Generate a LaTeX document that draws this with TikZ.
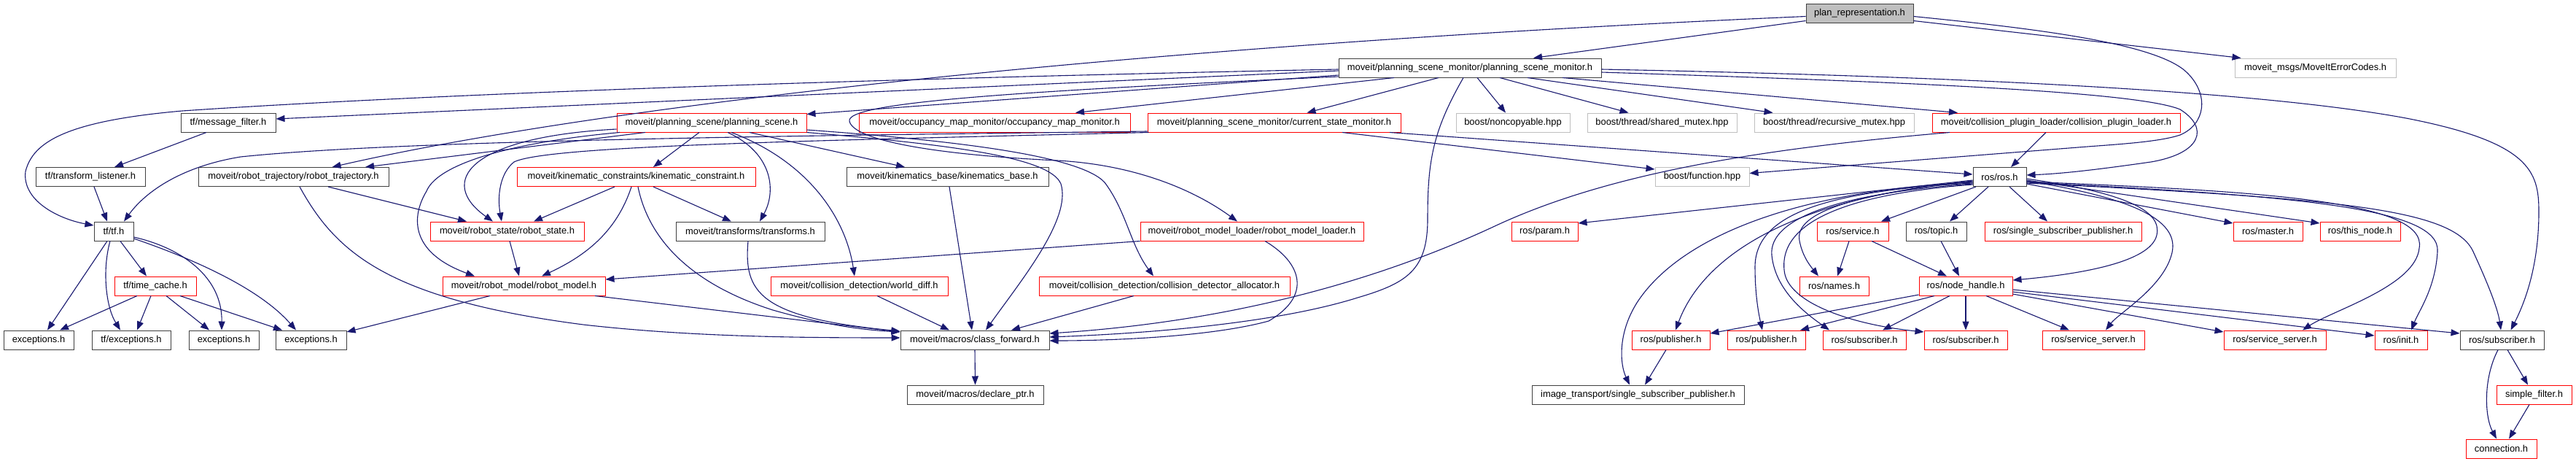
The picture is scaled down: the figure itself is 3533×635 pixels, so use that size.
\documentclass[tikz,border=0pt]{standalone}
\usepackage{fontspec}
\setmainfont{Liberation Sans}
\usetikzlibrary{arrows.meta}
\definecolor{edgeblue}{RGB}{25,25,112}
\definecolor{boxgray}{RGB}{191,191,191}
\definecolor{boxdark}{RGB}{64,64,64}
\tikzset{
  box/.style={rectangle, draw, line width=1pt, inner sep=0pt, minimum height=26, fill=white, text=black, font=\fontsize{12.9}{15}\selectfont},
  kbox/.style={box, draw=boxdark},
  rbox/.style={box, draw=red},
  gbox/.style={box, draw=boxgray},
  pbox/.style={box, draw=boxdark, fill=boxgray},
  dep/.style={draw=edgeblue, line width=1.1pt, -{Triangle[length=12pt,width=9pt]}}
}
\newcommand\mknode[6]{\node[#5, minimum width={#3-#2}] (#1) at ({(#2+#3)/2},#4) {#6};}
\begin{document}
\begin{tikzpicture}[x=1pt,y=-1pt]
\fill[white] (0,0) rectangle (3533,635);
\path[use as bounding box] (0,0) rectangle (3533,635);
% nodes
\mknode{P}{2477}{2624}{18.5}{pbox}{plan\_representation.h}
\mknode{PSM}{1836}{2196}{93}{kbox}{moveit/planning\_scene\_monitor/planning\_scene\_monitor.h}
\mknode{MEC}{3065}{3286}{93}{gbox}{moveit\_msgs/MoveItErrorCodes.h}
\mknode{MF}{248}{378}{168}{kbox}{tf/message\_filter.h}
\mknode{PS}{846}{1106}{168}{rbox}{moveit/planning\_scene/planning\_scene.h}
\mknode{OMM}{1178}{1550}{168}{rbox}{moveit/occupancy\_map\_monitor/occupancy\_map\_monitor.h}
\mknode{CSM}{1574}{1921}{168}{rbox}{moveit/planning\_scene\_monitor/current\_state\_monitor.h}
\mknode{NC}{1997}{2153}{168}{gbox}{boost/noncopyable.hpp}
\mknode{SM}{2177}{2382}{168}{gbox}{boost/thread/shared\_mutex.hpp}
\mknode{RM}{2406}{2625}{168}{gbox}{boost/thread/recursive\_mutex.hpp}
\mknode{CPL}{2650}{2990}{168}{rbox}{moveit/collision\_plugin\_loader/collision\_plugin\_loader.h}
\mknode{TL}{49}{199}{242.5}{kbox}{tf/transform\_listener.h}
\mknode{RT}{272}{533}{242.5}{kbox}{moveit/robot\_trajectory/robot\_trajectory.h}
\mknode{KC}{709}{1036}{242.5}{rbox}{moveit/kinematic\_constraints/kinematic\_constraint.h}
\mknode{KB}{1161}{1438}{242.5}{kbox}{moveit/kinematics\_base/kinematics\_base.h}
\mknode{BF}{2270}{2399}{242.5}{gbox}{boost/function.hpp}
\mknode{ROS}{2706}{2779}{242.5}{kbox}{ros/ros.h}
\mknode{TF}{129}{183}{317}{kbox}{tf/tf.h}
\mknode{RS}{590}{801}{317}{rbox}{moveit/robot\_state/robot\_state.h}
\mknode{TR}{927}{1131}{317}{kbox}{moveit/transforms/transforms.h}
\mknode{RML}{1564}{1870}{317}{rbox}{moveit/robot\_model\_loader/robot\_model\_loader.h}
\mknode{PAR}{2073}{2164}{317}{rbox}{ros/param.h}
\mknode{SRV}{2492}{2590}{317}{rbox}{ros/service.h}
\mknode{TOP}{2614}{2697}{317}{kbox}{ros/topic.h}
\mknode{SSP}{2722}{2937}{317}{rbox}{ros/single\_subscriber\_publisher.h}
\mknode{MAS}{3063}{3158}{317}{rbox}{ros/master.h}
\mknode{TN}{3182}{3292}{317}{rbox}{ros/this\_node.h}
\mknode{TC}{157}{269}{392}{rbox}{tf/time\_cache.h}
\mknode{RMo}{607}{830}{392}{rbox}{moveit/robot\_model/robot\_model.h}
\mknode{WD}{1057}{1300}{392}{rbox}{moveit/collision\_detection/world\_diff.h}
\mknode{CDA}{1425}{1769}{392}{rbox}{moveit/collision\_detection/collision\_detector\_allocator.h}
\mknode{NAM}{2468}{2563}{392}{rbox}{ros/names.h}
\mknode{NH}{2632}{2760}{392}{rbox}{ros/node\_handle.h}
\mknode{EA}{5}{101}{466}{kbox}{exceptions.h}
\mknode{TFE}{126}{234}{466}{kbox}{tf/exceptions.h}
\mknode{EB}{259}{355}{466}{kbox}{exceptions.h}
\mknode{EC}{378}{475}{466}{kbox}{exceptions.h}
\mknode{CF}{1235}{1439}{466}{kbox}{moveit/macros/class\_forward.h}
\mknode{PUBA}{2238}{2345}{466}{rbox}{ros/publisher.h}
\mknode{PUBB}{2369}{2476}{466}{rbox}{ros/publisher.h}
\mknode{SUBA}{2500}{2614}{466}{rbox}{ros/subscriber.h}
\mknode{SUBB}{2639}{2753}{466}{rbox}{ros/subscriber.h}
\mknode{SSA}{2801}{2941}{466}{rbox}{ros/service\_server.h}
\mknode{SSB}{3050}{3190}{466}{rbox}{ros/service\_server.h}
\mknode{INIT}{3257}{3329}{466}{rbox}{ros/init.h}
\mknode{MSUB}{3374}{3489}{466}{kbox}{ros/subscriber.h}
\mknode{DP}{1244}{1431}{541}{kbox}{moveit/macros/declare\_ptr.h}
\mknode{ISSP}{2101}{2392}{541}{kbox}{image\_transport/single\_subscriber\_publisher.h}
\mknode{SF}{3424}{3527}{541}{rbox}{simple\_filter.h}
\mknode{CON}{3382}{3479}{615}{rbox}{connection.h}
% edges from plan_representation.h
\draw[dep] ([yshift=-10]P.west) -- ([xshift=87]PSM.north);
\draw[dep] ([yshift=-10]P.east) -- ([xshift=-102]MEC.north);
\draw[dep] ([yshift=-4]P.east) .. controls (2800,40) and (2960,60) .. (3000,100) .. controls (3030,130) and (3025,170) .. (2990,185) .. controls (2960,195) and (2900,198) .. (2850,202) -- ([yshift=5]BF.east);
\draw[dep] ([yshift=-4]P.west) .. controls (1500,65) and (800,150) .. ([xshift=53]RT.north);
% planning_scene_monitor.h
\draw[dep] ([yshift=-4]PSM.west) -- ([yshift=5]MF.east);
\draw[dep] ([yshift=-2]PSM.west) .. controls (1000,112) and (500,135) .. (250,152) .. controls (90,166) and (45,195) .. (35,235) .. controls (30,275) and (80,300) .. ([yshift=8]TF.west);
\draw[dep] ([yshift=-10]PSM.west) -- ([yshift=-2]PS.north east);
\draw[dep] ([xshift=-104]PSM.south) -- ([xshift=111]OMM.north);
\draw[dep] ([yshift=-12]PSM.west) .. controls (1400,125) and (1160,140) .. (1165,166) .. controls (1170,192) and (1280,212) .. (1450,220) .. controls (1560,226) and (1640,262) .. ([xshift=-20]RML.north);
\draw[dep] ([xshift=-43]PSM.south) -- ([xshift=45]CSM.north);
\draw[dep] ([xshift=-9]PSM.south) .. controls (1965,180) and (1958,220) .. (1958,300) .. controls (1958,370) and (1930,388) .. (1862,408) .. controls (1760,440) and (1600,456) .. ([yshift=4]CF.east);
\draw[dep] ([xshift=10]PSM.south) -- ([xshift=-10]NC.north);
\draw[dep] ([xshift=41]PSM.south) -- ([xshift=-46]SM.north);
\draw[dep] ([xshift=79]PSM.south) -- ([xshift=-84]RM.north);
\draw[dep] ([xshift=127]PSM.south) -- ([xshift=-135]CPL.north);
\draw[dep] ([yshift=-2]PSM.east) .. controls (2700,105) and (3100,125) .. (3300,162) .. controls (3470,195) and (3482,235) .. (3482,290) .. controls (3482,370) and (3460,420) .. ([xshift=12]MSUB.north);
\draw[dep] ([yshift=-6]PSM.east) .. controls (2600,112) and (2930,125) .. (2990,150) .. controls (3030,175) and (3020,210) .. (2950,222) .. controls (2880,232) and (2830,238) .. ([yshift=2.5]ROS.east);
% current_state_monitor.h
\draw[dep] ([xshift=93.5]CSM.south) -- ([yshift=-3]BF.north west);
\draw[dep] ([xshift=158.5]CSM.south) -- ([yshift=3.5]ROS.west);
\draw[dep] ([yshift=-12]CSM.west) .. controls (1100,186) and (550,192) .. (330,215) .. controls (250,228) and (200,262) .. ([xshift=14]TF.north);
\draw[dep] ([xshift=-172]CSM.south) .. controls (1100,193) and (750,200) .. (705,222) .. controls (685,238) and (682,270) .. ([xshift=-7.5]RS.north);
% planning_scene.h
\draw[dep] ([xshift=-17]PS.south) -- ([xshift=23.5]KC.north);
\draw[dep] ([xshift=22]PS.south) .. controls (1060,210) and (1065,262) .. ([xshift=13]TR.north);
\draw[dep] ([xshift=27]PS.south) .. controls (1110,222) and (1160,300) .. ([xshift=-6.5]WD.north);
\draw[dep] ([xshift=52]PS.south) -- ([xshift=-58.5]KB.north);
\draw[dep] ([xshift=-91]PS.south) -- ([xshift=98.5]RT.north);
\draw[dep] ([yshift=-9]PS.west) .. controls (640,188) and (600,250) .. ([xshift=-19.5]RS.north);
\draw[dep] ([xshift=-126]PS.south) .. controls (700,195) and (600,225) .. (585,262) .. controls (565,295) and (560,345) .. ([xshift=-67.5]RMo.north);
\draw[dep] ([yshift=-10]PS.east) .. controls (1300,192) and (1480,212) .. (1515,250) .. controls (1545,290) and (1550,335) .. ([xshift=-15]CDA.north);
\draw[dep] (PS.south east) .. controls (1300,198) and (1440,215) .. (1455,252) .. controls (1470,300) and (1400,385) .. ([xshift=15]CF.north);
% robot_trajectory.h
\draw[dep] ([xshift=47.5]RT.south) -- ([xshift=-55.5]RS.north);
\draw[dep] ([xshift=8.5]RT.south) .. controls (460,345) and (530,410) .. (800,445) .. controls (950,462) and (1100,463) .. ([yshift=3]CF.west);
% kinematic_constraint.h
\draw[dep] ([xshift=-29.5]KC.south) -- ([xshift=36.5]RS.north);
\draw[dep] ([xshift=-6.5]KC.south) .. controls (845,320) and (800,352) .. ([xshift=24.5]RMo.north);
\draw[dep] ([xshift=2.5]KC.south) .. controls (890,330) and (950,390) .. (1060,425) .. controls (1130,445) and (1180,452) .. ([yshift=11]CF.west);
\draw[dep] ([xshift=23.5]KC.south) -- ([xshift=-26]TR.north);
% robot_state, robot_model, transforms, ...
\draw[dep] ([xshift=3.5]RS.south) -- ([xshift=-6.5]RMo.north);
\draw[dep] ([xshift=97.5]RMo.south) -- ([yshift=11]CF.west);
\draw[dep] ([xshift=-46.5]RMo.south) -- ([yshift=11]EC.east);
\draw[dep] ([xshift=-3]TR.south) .. controls (1020,400) and (1040,435) .. ([yshift=12]CF.west);
\draw[dep] ([xshift=24.5]WD.south) -- ([xshift=-35]CF.north);
\draw[dep] ([xshift=2.5]KB.south) -- ([xshift=-4]CF.north);
\draw[dep] ([xshift=-42]CDA.south) -- ([xshift=50]CF.north);
\draw[dep] (RML.south west) -- ([yshift=9]RMo.east);
\draw[dep] ([xshift=18]RML.south) .. controls (1785,360) and (1800,405) .. (1740,440) .. controls (1660,462) and (1520,467) .. ([yshift=-1]CF.east);
\draw[dep] ([xshift=-146]CPL.south) .. controls (2400,205) and (2200,240) .. (2050,310) .. controls (1900,380) and (1700,440) .. ([yshift=9]CF.east);
\draw[dep] ([xshift=-14]CPL.south) -- ([xshift=15.5]ROS.north);
\draw[dep] (CF.south) -- (DP.north);
% tf
\draw[dep] ([xshift=-30]MF.south) -- ([xshift=33]TL.north);
\draw[dep] ([xshift=5]TL.south) -- ([xshift=-9]TF.north);
\draw[dep] ([xshift=-9]TF.south) -- ([xshift=12]EA.north);
\draw[dep] ([xshift=-5]TF.south) .. controls (140,370) and (145,420) .. ([xshift=-15]TFE.north);
\draw[dep] ([xshift=9]TF.south) -- ([xshift=-12]TC.north);
\draw[dep] ([yshift=-8]TF.east) .. controls (250,340) and (305,380) .. ([xshift=-3]EB.north);
\draw[dep] ([yshift=-10]TF.east) .. controls (280,360) and (360,400) .. ([xshift=-20.5]EC.north);
\draw[dep] ([xshift=-25]TC.south) -- ([xshift=29]EA.north);
\draw[dep] ([xshift=-6]TC.south) -- ([xshift=8]TFE.north);
\draw[dep] ([xshift=15]TC.south) -- ([xshift=-20]EB.north);
\draw[dep] ([xshift=34]TC.south) -- ([xshift=-39.5]EC.north);
% ros/ros.h
\draw[dep] ([yshift=-4.5]ROS.west) -- ([yshift=11]PAR.east);
\draw[dep] ([xshift=-32.5]ROS.south) -- ([xshift=39]SRV.north);
\draw[dep] ([xshift=-15.5]ROS.south) -- ([xshift=18.5]TOP.north);
\draw[dep] ([xshift=13.5]ROS.south) -- ([xshift=-21.5]SSP.north);
\draw[dep] ([yshift=-9.5]ROS.east) -- ([yshift=11]MAS.west);
\draw[dep] ([yshift=-4.5]ROS.east) -- ([yshift=11]TN.west);
\draw[dep] ([yshift=-5.5]ROS.west) .. controls (2550,265) and (2460,290) .. (2468,330) .. controls (2472,352) and (2484,366) .. ([xshift=-21.5]NAM.north);
\draw[dep] ([yshift=-2.5]ROS.east) .. controls (2920,265) and (2965,290) .. (2958,322) .. controls (2950,360) and (2850,376) .. ([yshift=8]NH.east);
\draw[dep] ([yshift=-5.5]ROS.east) .. controls (2950,275) and (2990,310) .. (2978,350) .. controls (2965,395) and (2905,430) .. ([xshift=17]SSA.north);
\draw[dep] ([yshift=-6.5]ROS.east) .. controls (3100,262) and (3330,275) .. (3318,340) .. controls (3313,392) and (3200,425) .. ([xshift=38]SSB.north);
\draw[dep] ([yshift=-7.5]ROS.east) .. controls (3150,268) and (3348,285) .. (3343,345) .. controls (3340,395) and (3318,425) .. ([xshift=14]INIT.north);
\draw[dep] ([yshift=-8.5]ROS.east) .. controls (3200,272) and (3365,285) .. (3392,345) .. controls (3415,395) and (3426,425) .. ([xshift=-1.5]MSUB.north);
\draw[dep] ([yshift=-6.5]ROS.west) .. controls (2480,268) and (2340,340) .. ([xshift=6.5]PUBA.north);
\draw[dep] ([yshift=-7.5]ROS.west) .. controls (2450,262) and (2300,330) .. (2245,415) .. controls (2218,458) and (2222,500) .. ([xshift=-11.5]ISSP.north);
\draw[dep] ([yshift=-8.5]ROS.west) .. controls (2500,262) and (2408,295) .. (2407,365) .. controls (2407,405) and (2412,430) .. ([xshift=-5.5]PUBB.north);
\draw[dep] ([yshift=-9.5]ROS.west) .. controls (2520,265) and (2425,300) .. (2430,350) .. controls (2435,400) and (2480,432) .. ([xshift=-48]SUBA.north);
\draw[dep] ([yshift=-10.5]ROS.west) .. controls (2545,265) and (2440,300) .. (2447,370) .. controls (2450,415) and (2540,445) .. ([yshift=11]SUBB.west);
% ros/node_handle.h
\draw[dep] ([yshift=-12]NH.west) -- ([yshift=9]PUBA.east);
\draw[dep] ([xshift=-43]NH.south) -- ([xshift=46.5]PUBB.north);
\draw[dep] ([xshift=-22]NH.south) -- ([xshift=25]SUBA.north);
\draw[dep] (NH.south) -- (SUBB.north);
\draw[dep] ([xshift=28]NH.south) -- ([xshift=-33]SSA.north);
\draw[dep] ([yshift=-11]NH.east) -- ([yshift=11]SSB.west);
\draw[dep] ([yshift=-8]NH.east) -- ([yshift=6]INIT.west);
\draw[dep] ([yshift=-5]NH.east) -- ([yshift=9]MSUB.west);
% others
\draw[dep] ([xshift=-5]SRV.south) -- ([xshift=4.5]NAM.north);
\draw[dep] ([xshift=26]SRV.south) -- ([xshift=-26]NH.north);
\draw[dep] ([xshift=6.5]TOP.south) -- ([xshift=-9]NH.north);
\draw[dep] ([xshift=-6.5]PUBA.south) -- ([xshift=9.5]ISSP.north);
\draw[dep] ([xshift=7.5]MSUB.south) -- ([xshift=-8.5]SF.north);
\draw[dep] ([xshift=-5.5]MSUB.south) .. controls (3405,520) and (3408,572) .. ([xshift=-6.5]CON.north);
\draw[dep] ([xshift=-6.5]SF.south) -- ([xshift=10.5]CON.north);
\end{tikzpicture}
\end{document}
